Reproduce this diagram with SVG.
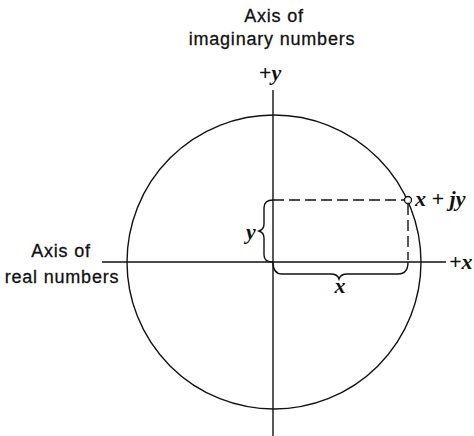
<svg xmlns="http://www.w3.org/2000/svg" width="474" height="436" viewBox="0 0 474 436">
<style>
.sans{font-family:"Liberation Sans",Arial,sans-serif;font-size:18px;fill:#111;stroke:#111;stroke-width:0.3;text-anchor:middle;letter-spacing:0.8px}
.mi{font-family:"Liberation Serif","Times New Roman",serif;font-style:italic;font-weight:bold;font-size:22px;fill:#111}
.ln{fill:none;stroke:#111;stroke-width:1.4}
.dash{fill:none;stroke:#111;stroke-width:1.4;stroke-dasharray:11 5}
</style>
<rect width="474" height="436" fill="#fff"/>
<g id="labels">
<text class="sans" x="274" y="22">Axis of</text>
<text class="sans" x="272" y="45">imaginary numbers</text>
<text class="sans" x="61" y="257">Axis of</text>
<text class="sans" x="62" y="283">real numbers</text>
</g>
<g id="circle"><circle class="ln" cx="274" cy="262" r="147" stroke-width="1.6"/></g>
<g id="connectors">
<line id="y-axis" class="ln" x1="273" y1="90" x2="273" y2="436"/>
<line id="x-axis" class="ln" x1="102" y1="262" x2="446" y2="262"/>
<line class="dash" x1="273" y1="200" x2="404" y2="200"/>
<line class="dash" x1="408" y1="204" x2="408" y2="260"/>
<path id="brace-y" class="ln" d="M273,200 C267,200 264,203 264,208 L264,224 C264,228 262,230 259,231 C262,232 264,234 264,238 L264,255 C264,260 268,262 273,262"/>
<path id="brace-x" class="ln" stroke-width="1.8" d="M273,262 C273,270 276,274 282,274 L331,274 C335,274 338,276 339,279 C340,276 343,274 347,274 L398,274 C404,274 408,270 408,262"/>
</g>
<g id="point"><circle cx="408" cy="200" r="3.5" fill="#fff" stroke="#111" stroke-width="1.3"/></g>
<g id="math-labels">
<text class="mi" x="270" y="80" text-anchor="middle">+y</text>
<text class="mi" x="449" y="269">+x</text>
<text class="mi" x="415" y="206">x + jy</text>
<text class="mi" x="251" y="239" text-anchor="middle">y</text>
<text class="mi" x="340" y="293" text-anchor="middle">x</text>
</g>
</svg>
